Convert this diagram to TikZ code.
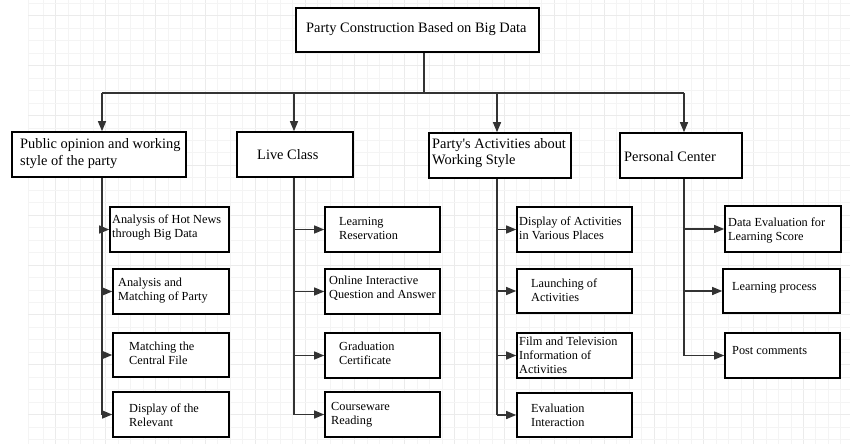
\documentclass[tikz,border=0pt]{standalone}
\usepackage{fontspec}
\setmainfont{Liberation Serif}
\usetikzlibrary{arrows.meta}
\definecolor{gridminor}{HTML}{F4F4F4}
\definecolor{gridmajor}{HTML}{EBEBEB}
\definecolor{linecol}{HTML}{333333}
\begin{document}
\begin{tikzpicture}[x=1pt,y=-1pt,
  box/.style={draw=black,line width=1.6pt,inner sep=0pt,fill=white},
  headtxt/.style={inner sep=0pt,anchor=west,align=left,font=\fontsize{14.4}{16.5}\selectfont},
  childtxt/.style={inner sep=0pt,anchor=west,align=left,font=\fontsize{12.3}{14}\selectfont},
  conn/.style={draw=linecol,line width=1.3pt},
  arr/.style={conn,-{Triangle[length=10pt,width=8pt]}}]
\useasboundingbox (0,0) rectangle (850,444);
\fill[white] (0,0) rectangle (850,444);
% grid
\draw[gridminor,line width=0.7pt] (28.3,0) -- (28.3,444);
\foreach \i in {0,...,64}{
  \pgfmathsetmacro{\xx}{43.3+12.46*\i}
  \pgfmathtruncatemacro{\mm}{mod(\i+3,4)}
  \ifnum\mm=0 \draw[gridmajor,line width=0.7pt] (\xx,0) -- (\xx,444);
  \else \draw[gridminor,line width=0.7pt] (\xx,0) -- (\xx,444); \fi
}
\foreach \i in {0,...,35}{
  \pgfmathsetmacro{\yy}{3.3+12.46*\i}
  \pgfmathtruncatemacro{\mm}{mod(\i+3,4)}
  \ifnum\mm=0 \draw[gridmajor,line width=0.7pt] (28.3,\yy) -- (850,\yy);
  \else \draw[gridminor,line width=0.7pt] (28.3,\yy) -- (850,\yy); \fi
}
% top
\node[box,minimum width=243pt,minimum height=44pt] (top) at (417.5,30) {};
\node[headtxt] (topt) at (306,29) {Party Construction Based on Big Data};
% level 2
\node[box,minimum width=174pt,minimum height=45pt] (p1) at (99,154.5) {};
\node[headtxt] (p1t) at (20,153.5) {Public opinion and working\\style of the party};
\node[box,minimum width=116pt,minimum height=45pt] (p2) at (295,154.5) {};
\node[headtxt] (p2t) at (257,155) {Live Class};
\node[box,minimum width=142pt,minimum height=45pt] (p3) at (500,155.5) {};
\node[headtxt] (p3t) at (432,153) {Party\textquotesingle s Activities about\\Working Style};
\node[box,minimum width=122pt,minimum height=45pt] (p4) at (681,155.5) {};
\node[headtxt] (p4t) at (624,157) {Personal Center};
% children col 1
\node[box,minimum width=119pt,minimum height=45pt] (c11) at (169.5,229.5) {};
\node[childtxt] (c11t) at (112,227) {Analysis of Hot News\\through Big Data};
\node[box,minimum width=116pt,minimum height=45pt] (c12) at (171,291.5) {};
\node[childtxt] (c12t) at (118,290.5) {Analysis and\\Matching of Party};
\node[box,minimum width=116pt,minimum height=44pt] (c13) at (171,355) {};
\node[childtxt] (c13t) at (129,353) {Matching the\\Central File};
\node[box,minimum width=116pt,minimum height=45pt] (c14) at (171,414.5) {};
\node[childtxt] (c14t) at (129,415) {Display of the\\Relevant};
% children col 2
\node[box,minimum width=115pt,minimum height=45pt] (c21) at (382.5,229.5) {};
\node[childtxt] (c21t) at (339,228.7) {Learning\\Reservation};
\node[box,minimum width=115pt,minimum height=45pt] (c22) at (382.5,291.5) {};
\node[childtxt] (c22t) at (329,288) {Online Interactive\\Question and Answer};
\node[box,minimum width=115pt,minimum height=45pt] (c23) at (382.5,355.5) {};
\node[childtxt] (c23t) at (339,353) {Graduation\\Certificate};
\node[box,minimum width=115pt,minimum height=45pt] (c24) at (382.5,414.5) {};
\node[childtxt] (c24t) at (331,415) {Courseware\\Reading};
% children col 3
\node[box,minimum width=115pt,minimum height=45pt] (c31) at (574.5,229.5) {};
\node[childtxt] (c31t) at (519,228.7) {Display of Activities\\in Various Places};
\node[box,minimum width=115pt,minimum height=44pt] (c32) at (574.5,291) {};
\node[childtxt] (c32t) at (531,290.5) {Launching of\\Activities};
\node[box,minimum width=115pt,minimum height=45pt] (c33) at (574.5,355.5) {};
\node[childtxt] (c33t) at (519,355) {Film and Television\\Information of\\Activities};
\node[box,minimum width=115pt,minimum height=44pt] (c34) at (574.5,415) {};
\node[childtxt] (c34t) at (531,415.7) {Evaluation\\Interaction};
% children col 4
\node[box,minimum width=116pt,minimum height=46pt] (c41) at (783,229) {};
\node[childtxt] (c41t) at (728,230) {Data Evaluation for\\Learning Score};
\node[box,minimum width=117pt,minimum height=44pt] (c42) at (781.5,291) {};
\node[childtxt] (c42t) at (732,288) {Learning process};
\node[box,minimum width=115pt,minimum height=45pt] (c43) at (782.5,355.5) {};
\node[childtxt] (c43t) at (732,351) {Post comments};
% connectors
\coordinate (j) at (424,93);
\coordinate (h1) at (102,93);
\coordinate (h2) at (294,93);
\coordinate (h3) at (497,93);
\coordinate (h4) at (684,93);
\draw[conn] (top.south -| j) -- (j);
\draw[conn] (h1) -- (h4);
\foreach \h/\p in {h1/p1,h2/p2,h3/p3,h4/p4}{
  \draw[arr] (\h) -- (\p.north -| \h);
}
% stems
\draw[conn] (p1.south -| h1) -- (c14.west -| h1);
\draw[conn] (p2.south -| h2) -- (c24.west -| h2);
\draw[conn] (p3.south -| h3) -- (c34.west -| h3);
\draw[conn] (p4.south -| h4) -- (c43.west -| h4);
\foreach \c in {c11,c12,c13,c14}{ \draw[arr] (\c.west -| h1) -- (\c.west); }
\foreach \c in {c21,c22,c23,c24}{ \draw[arr] (\c.west -| h2) -- (\c.west); }
\foreach \c in {c31,c32,c33,c34}{ \draw[arr] (\c.west -| h3) -- (\c.west); }
\foreach \c in {c41,c42,c43}{ \draw[arr] (\c.west -| h4) -- (\c.west); }
\end{tikzpicture}
\end{document}
